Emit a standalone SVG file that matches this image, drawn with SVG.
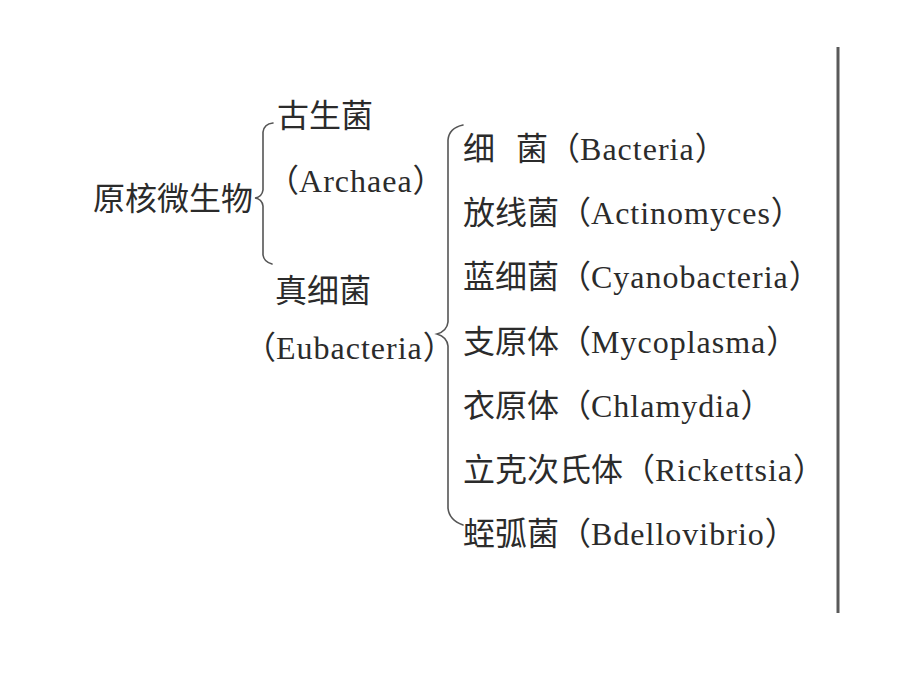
<svg xmlns="http://www.w3.org/2000/svg" width="920" height="690" viewBox="0 0 920 690">
<style>
text{font-family:"Liberation Serif","Noto Sans CJK SC",serif;font-size:32px;fill:#2b2b2b}
.la{letter-spacing:1px}
.br{fill:none;stroke:#555;stroke-width:1.6;stroke-linecap:round}
</style>
<rect width="920" height="690" fill="#fff"/>
<g id="root"><text x="93" y="210">原核微生物</text></g>
<g id="archaea"><text x="277" y="127">古生菌</text><text x="267" y="192">（<tspan class="la">Archaea</tspan>）</text></g>
<g id="eubacteria"><text x="275" y="302">真细菌</text><text x="244" y="359">（<tspan class="la">Eubacteria</tspan>）</text></g>
<g id="bacteria"><text x="463" y="160" xml:space="preserve">细 <tspan dx="13">菌（<tspan class="la">Bacteria</tspan>）</tspan></text></g>
<g id="actinomyces"><text x="463" y="224">放线菌（<tspan class="la">Actinomyces</tspan>）</text></g>
<g id="cyanobacteria"><text x="463" y="288">蓝细菌（<tspan class="la">Cyanobacteria</tspan>）</text></g>
<g id="mycoplasma"><text x="463" y="353">支原体（<tspan class="la">Mycoplasma</tspan>）</text></g>
<g id="chlamydia"><text x="463" y="417">衣原体（<tspan class="la">Chlamydia</tspan>）</text></g>
<g id="rickettsia"><text x="463" y="481">立克次氏体（<tspan class="la">Rickettsia</tspan>）</text></g>
<g id="bdellovibrio"><text x="463" y="545">蛭弧菌（<tspan class="la">Bdellovibrio</tspan>）</text></g>
<g id="connectors">
<path class="br" d="M273,123 Q264,124 263,132 L263,190 Q262,197 255,198 Q262,199 263,206 L263,255 Q264,262 272,264"/>
<path class="br" d="M463,125 Q449,128 448,140 L448,322 Q447,331 437,334 Q447,337 448,346 L448,508 Q449,520 463,525"/>
</g>
<line x1="838" y1="47" x2="838" y2="613" stroke="#5a5a5a" stroke-width="3"/>
</svg>
